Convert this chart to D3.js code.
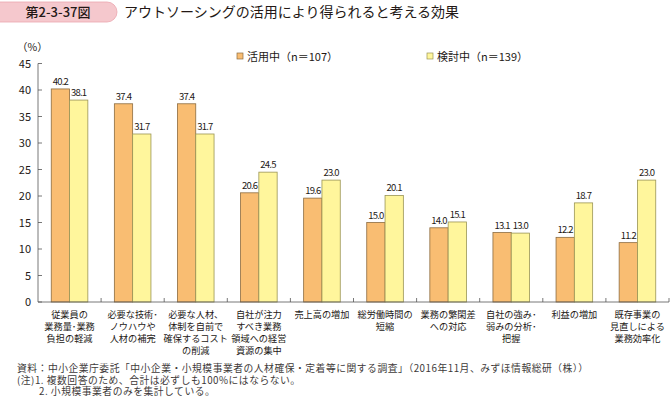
<!DOCTYPE html>
<html>
<head>
<meta charset="utf-8">
<script src="https://cdn.jsdelivr.net/npm/d3@7"></script>
<style>
  body { margin: 0; background: #fff; }
  text { font-family: "Noto Sans CJK JP", "Noto Sans", sans-serif; fill: #231815; }
</style>
</head>
<body>
<script>
// data
var categories = [
  ["従業員の", "業務量･業務", "負担の軽減"],
  ["必要な技術･", "ノウハウや", "人材の補完"],
  ["必要な人材、", "体制を自前で", "確保するコスト", "の削減"],
  ["自社が注力", "すべき業務", "領域への経営", "資源の集中"],
  ["売上高の増加"],
  ["総労働時間の", "短縮"],
  ["業務の繁閑差", "への対応"],
  ["自社の強み･", "弱みの分析･", "把握"],
  ["利益の増加"],
  ["既存事業の", "見直しによる", "業務効率化"]
];
var inUse = [40.2, 37.4, 37.4, 20.6, 19.6, 15.0, 14.0, 13.1, 12.2, 11.2];
var considering = [38.1, 31.7, 31.7, 24.5, 23.0, 20.1, 15.1, 13.0, 18.7, 23.0];
var seriesNames = ["活用中（n＝107）", "検討中（n＝139）"];
var yTicks = [0, 5, 10, 15, 20, 25, 30, 35, 40, 45];
var notes = [
  "資料：中小企業庁委託「中小企業・小規模事業者の人材確保・定着等に関する調査」（2016年11月、みずほ情報総研（株））",
  "(注)1. 複数回答のため、合計は必ずしも100%にはならない。",
  "2. 小規模事業者のみを集計している。"
];

// styles
var fills = ["#f9bd72", "#fff69c"];
var strokes = ["#8c6c40", "#9a9455"];

var width = 670, height = 397;
var svg = d3.select("body").append("svg")
  .attr("width", width).attr("height", height);

// title
svg.append("rect")
  .attr("x", -12).attr("y", 2).attr("width", 129).attr("height", 20)
  .attr("rx", 10).attr("fill", "#f5c8cd").attr("stroke", "#eba6ae").attr("stroke-width", 0.8);
svg.append("text").attr("x", 58).attr("y", 17).attr("text-anchor", "middle")
  .attr("font-size", 13).attr("font-weight", 500).text("第2-3-37図");
svg.append("text").attr("x", 124).attr("y", 17)
  .attr("font-size", 14).text("アウトソーシングの活用により得られると考える効果");

var x0 = d3.scaleBand().domain(d3.range(categories.length)).range([38, 669]);
var y = d3.scaleLinear().domain([0, 45]).range([302, 63.5]);
var bw = 18.3;

var g = svg.append("g");

// y axis
g.append("line").attr("x1", 38).attr("x2", 38).attr("y1", y(45)).attr("y2", y(0))
  .attr("stroke", "#555").attr("stroke-width", 0.8);
yTicks.forEach(function(t) {
  g.append("line").attr("x1", 38).attr("x2", 42).attr("y1", y(t)).attr("y2", y(t))
    .attr("stroke", "#555").attr("stroke-width", 0.8);
  g.append("text").attr("x", 31).attr("y", y(t) + 4).attr("text-anchor", "end")
    .attr("font-size", 11).text(t);
});
svg.append("text").attr("x", 17).attr("y", 51).attr("font-size", 10.5).text("（%）");

// bars
categories.forEach(function(c, i) {
  var cx = x0(i) + x0.bandwidth() / 2;
  [inUse[i], considering[i]].forEach(function(v, s) {
    var bx = cx - bw + s * bw;
    g.append("rect")
      .attr("x", bx).attr("y", y(v)).attr("width", bw).attr("height", y(0) - y(v))
      .attr("fill", fills[s]).attr("stroke", strokes[s]).attr("stroke-width", 0.8);
    g.append("text").attr("x", bx + bw / 2).attr("y", y(v) - 4)
      .attr("text-anchor", "middle").attr("font-size", 9.5).attr("letter-spacing", -0.8)
      .text(v.toFixed(1));
  });
  // labels, one text block per category
  var lbl = g.append("text").attr("x", cx).attr("y", 318)
    .attr("text-anchor", "middle").attr("font-size", 9.2);
  c.forEach(function(line, k) {
    lbl.append("tspan").attr("x", cx).attr("dy", k == 0 ? 0 : 12).text(line);
  });
});

// x axis
g.append("line").attr("x1", 38).attr("x2", 669).attr("y1", y(0)).attr("y2", y(0))
  .attr("stroke", "#555").attr("stroke-width", 0.8);
d3.range(1, categories.length + 1).forEach(function(i) {
  var tx = i < categories.length ? x0(i) : 669;
  g.append("line").attr("x1", tx).attr("x2", tx).attr("y1", y(0) - 4).attr("y2", y(0))
    .attr("stroke", "#555").attr("stroke-width", 0.8);
});

// legend
var legX = [237, 427];
seriesNames.forEach(function(n, s) {
  svg.append("rect").attr("x", legX[s]).attr("y", 53).attr("width", 6).attr("height", 6)
    .attr("fill", fills[s]).attr("stroke", strokes[s]).attr("stroke-width", 0.7);
  svg.append("text").attr("x", legX[s] + 10).attr("y", 60.5).attr("font-size", 11).text(n);
});

// notes as one block
var noteX = [17, 17, 39];
var nt = svg.append("text").attr("y", 372).attr("font-size", 9.8)
  .attr("letter-spacing", 0.5).style("fill", "#3e3a39");
notes.forEach(function(n, k) {
  nt.append("tspan").attr("x", noteX[k]).attr("dy", k == 0 ? 0 : 11.7).text(n);
});
</script>
</body>
</html>
